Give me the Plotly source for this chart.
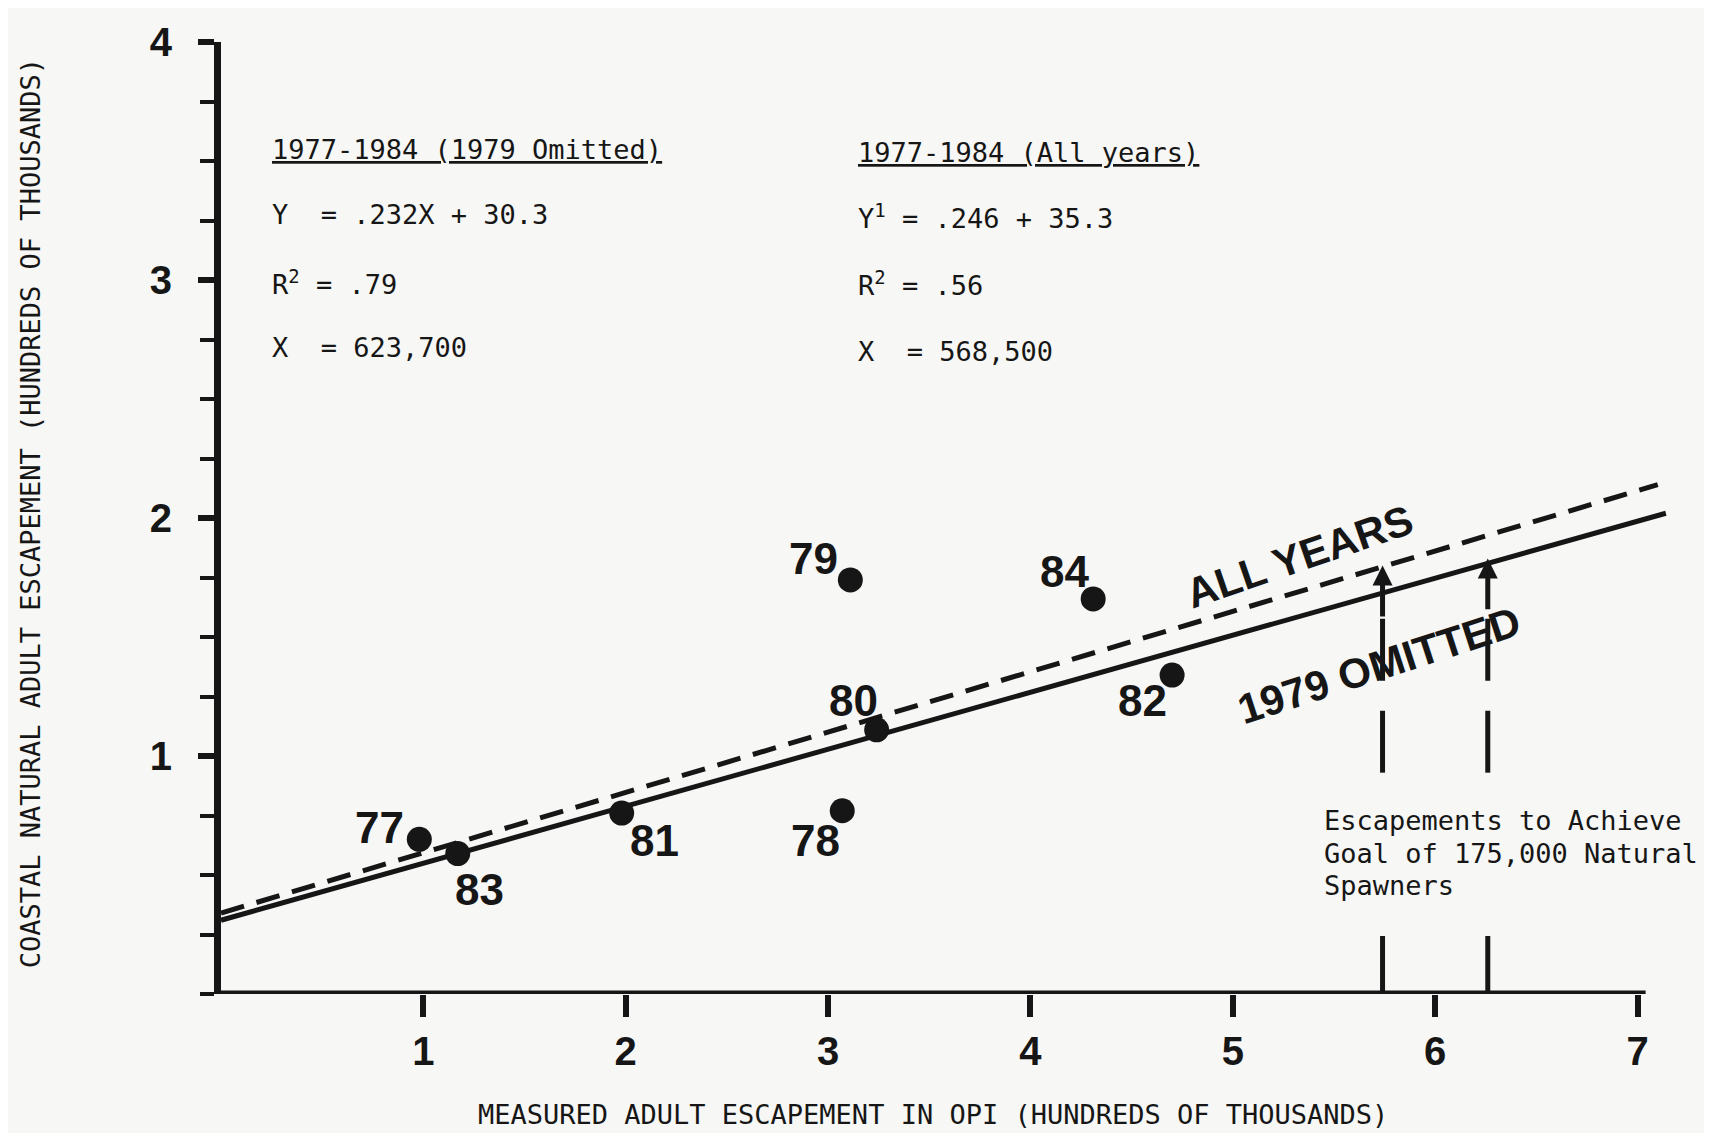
import plotly.graph_objects as go

# ---------------- data ----------------
years = ["77", "78", "79", "80", "81", "82", "83", "84"]
opi_escapement = [0.98, 3.07, 3.11, 3.24, 1.98, 4.70, 1.17, 4.31]      # hundreds of thousands
coastal_escapement = [0.65, 0.77, 1.74, 1.11, 0.76, 1.34, 0.59, 1.66]  # hundreds of thousands

# regression lines (end points)
fit_x = [0.0, 7.14]
fit_omit79_y = [0.31, 2.02]     # solid, 1979 omitted
fit_all_x = [0.0, 7.10]
fit_all_y = [0.34, 2.14]        # dashed, all years

# escapement goal markers
goal_x = [5.74, 6.26]
goal_tip_y = [1.80, 1.83]

x_ticks = [1, 2, 3, 4, 5, 6, 7]
y_ticks = [1, 2, 3, 4]

# ---------------- styles / layout ----------------
INK = "#161616"
BG = "#f7f7f5"
BOLD = "Liberation Sans"
MONO = "DejaVu Sans Mono"

label_offsets = {  # px offsets of year labels from their points
    "77": (-40, 12), "83": (22, -36), "81": (33, -27), "78": (-27, -30),
    "80": (-23, 29), "79": (-37, 21), "84": (-29, 27), "82": (-30, -25),
}

fig = go.Figure()

fig.add_trace(go.Scatter(x=fit_x, y=fit_omit79_y, mode="lines",
                         line=dict(color=INK, width=5), hoverinfo="skip"))
fig.add_trace(go.Scatter(x=fit_all_x, y=fit_all_y, mode="lines",
                         line=dict(color=INK, width=5, dash="24px,13px"), hoverinfo="skip"))

# dashed vertical goal lines (broken where the note text sits)
for gx, tip in zip(goal_x, goal_tip_y):
    fig.add_trace(go.Scatter(x=[gx, gx], y=[0, 0.33], mode="lines",
                             line=dict(color=INK, width=5, dash="58px,40px"), hoverinfo="skip"))
    fig.add_trace(go.Scatter(x=[gx, gx], y=[0.93, tip - 0.2], mode="lines",
                             line=dict(color=INK, width=5, dash="62px,30px"), hoverinfo="skip"))
    fig.add_annotation(x=gx, y=tip, ax=gx, ay=tip - 0.22, xref="x", yref="y",
                       axref="x", ayref="y", showarrow=True, arrowhead=2,
                       arrowsize=0.8, arrowwidth=5, arrowcolor=INK, text="")

fig.add_trace(go.Scatter(x=opi_escapement, y=coastal_escapement, mode="markers",
                         marker=dict(color=INK, size=25), cliponaxis=False, hoverinfo="skip"))

for yr, xv, yv in zip(years, opi_escapement, coastal_escapement):
    dx, dy = label_offsets[yr]
    fig.add_annotation(x=xv, y=yv, text="<b>%s</b>" % yr, showarrow=False,
                       xshift=dx, yshift=dy,
                       font=dict(family=BOLD, size=44, color=INK))

# x axis line drawn to the end of the ruled axis
fig.add_shape(type="line", x0=0, x1=7.04, y0=0, y1=0, xref="x", yref="y",
              line=dict(color=INK, width=7))

# equation blocks
eq_font = dict(family=MONO, size=27, color=INK)
left_block = [
    (3.547, "<u>1977-1984 (1979 Omitted)</u>"),
    (3.276, "Y&nbsp;&nbsp;= .232X + 30.3"),
    (2.99, "R<sup>2</sup> = .79"),
    (2.715, "X&nbsp;&nbsp;= 623,700"),
]
right_block = [
    (3.535, "<u>1977-1984 (All years)</u>"),
    (3.265, "Y<sup>1</sup> = .246 + 35.3"),
    (2.985, "R<sup>2</sup> = .56"),
    (2.70, "X&nbsp;&nbsp;= 568,500"),
]
for yv, txt in left_block:
    fig.add_annotation(x=0.24, y=yv, text=txt, showarrow=False, xanchor="left",
                       yanchor="middle", font=eq_font)
for yv, txt in right_block:
    fig.add_annotation(x=3.14, y=yv, text=txt, showarrow=False, xanchor="left",
                       yanchor="middle", font=eq_font)

# rotated line labels
fig.add_annotation(x=5.33, y=1.84, text="<b>ALL YEARS</b>", showarrow=False,
                   textangle=-19, font=dict(family=BOLD, size=42, color=INK))
fig.add_annotation(x=5.72, y=1.38, text="<b>1979 OMITTED</b>", showarrow=False,
                   textangle=-18, font=dict(family=BOLD, size=42, color=INK))

# goal note
note_lines = [(0.73, "Escapements to Achieve"),
              (0.59, "Goal of 175,000 Natural"),
              (0.455, "Spawners")]
for yv, txt in note_lines:
    fig.add_annotation(x=5.44, y=yv, text=txt, showarrow=False, xanchor="left",
                       yanchor="middle", font=dict(family=MONO, size=27, color=INK))

# axis titles
fig.add_annotation(xref="paper", yref="paper", x=0.489, y=-0.127,
                   xanchor="center", yanchor="middle",
                   text="MEASURED ADULT ESCAPEMENT IN OPI (HUNDREDS OF THOUSANDS)",
                   showarrow=False, font=dict(family=MONO, size=27, color=INK))
fig.add_annotation(xref="paper", yref="paper", x=-0.131, y=0.505, textangle=-90,
                   xanchor="center", yanchor="middle",
                   text="COASTAL NATURAL ADULT ESCAPEMENT (HUNDREDS OF THOUSANDS)",
                   showarrow=False, font=dict(family=MONO, size=27, color=INK))

fig.update_layout(
    width=1712, height=1133,
    margin=dict(l=213, r=42, t=25, b=147),
    paper_bgcolor=BG, plot_bgcolor=BG,
    showlegend=False,
    xaxis=dict(range=[0, 7.2], tickvals=x_ticks, ticktext=["<b>%d</b>" % v for v in x_ticks],
               showgrid=False, zeroline=False, showline=False,
               ticks="outside", ticklen=22, tickwidth=6, tickcolor=INK,
               ticklabelstandoff=0,
               tickfont=dict(family=BOLD, size=40, color=INK)),
    yaxis=dict(range=[0, 4], tickvals=y_ticks, ticktext=["<b>%d</b>" % v for v in y_ticks],
               showgrid=False, zeroline=False, showline=True, linewidth=7, linecolor=INK,
               ticks="outside", ticklen=16, tickwidth=6, tickcolor=INK,
               ticklabelstandoff=18,
               minor=dict(dtick=0.25, tick0=0, ticks="outside", ticklen=14,
                          tickwidth=4, tickcolor=INK),
               tickfont=dict(family=BOLD, size=40, color=INK)),
)

fig.write_html("out.html")
